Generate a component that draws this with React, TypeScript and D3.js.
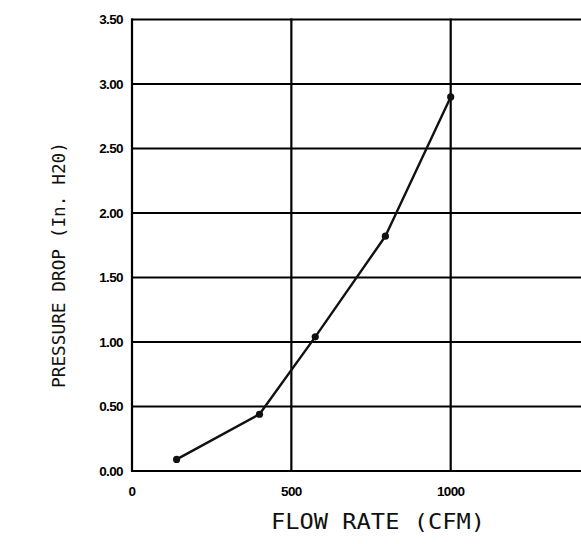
import { useEffect, useRef } from "react";
import * as d3 from "d3";

// Flow rate (CFM) vs pressure drop (in. H2O)
const flowRates = [140, 400, 575, 795, 1000];
const pressureDrops = [0.09, 0.44, 1.04, 1.82, 2.9];
const xTicks = [0, 500, 1000, 1500];
const yTicks = [0, 0.5, 1, 1.5, 2, 2.5, 3, 3.5];

const WIDTH = 581;
const HEIGHT = 544;
const MARGIN = { top: 19.5, left: 132, bottom: 73 };

export default function App() {
  const ref = useRef<SVGSVGElement>(null);

  useEffect(() => {
    const svg = d3.select(ref.current);
    svg.selectAll("*").remove();

    const x = d3.scaleLinear().domain([0, 1000]).range([MARGIN.left, 450.7]);
    const y = d3
      .scaleLinear()
      .domain([0, 3.5])
      .range([HEIGHT - MARGIN.bottom, MARGIN.top]);

    const grid = svg.append("g").attr("stroke", "#000").attr("stroke-width", 2.2);

    // horizontal lines, 0.00 .. 3.50
    grid
      .selectAll("line.h")
      .data(yTicks)
      .join("line")
      .attr("class", "h")
      .attr("x1", x(0) - 1)
      .attr("x2", x(1500))
      .attr("y1", (d) => y(d))
      .attr("y2", (d) => y(d));

    // vertical lines, left axis + 500 + 1000 + right edge
    grid
      .selectAll("line.v")
      .data(xTicks)
      .join("line")
      .attr("class", "v")
      .attr("x1", (d) => x(d))
      .attr("x2", (d) => x(d))
      .attr("y1", y(3.5) - 1)
      .attr("y2", y(0) + 1);

    // y tick labels
    svg
      .append("g")
      .selectAll("text")
      .data(yTicks)
      .join("text")
      .attr("x", x(0) - 9)
      .attr("y", (d) => y(d))
      .attr("dy", "0.36em")
      .attr("text-anchor", "end")
      .attr("font-family", "Liberation Sans, Arial, sans-serif")
      .attr("font-weight", "bold")
      .attr("font-size", 13.5)
      .attr("letter-spacing", -0.6)
      .text((d) => d3.format(".2f")(d));

    // x tick labels
    svg
      .append("g")
      .selectAll("text")
      .data(xTicks.slice(0, 3))
      .join("text")
      .attr("x", (d) => x(d))
      .attr("y", 495.5)
      .attr("text-anchor", "middle")
      .attr("font-family", "Liberation Sans, Arial, sans-serif")
      .attr("font-weight", "bold")
      .attr("font-size", 13.5)
      .attr("letter-spacing", -0.6)
      .text((d) => String(d));

    const line = d3
      .line<number>()
      .x((d) => x(d))
      .y((_, i) => y(pressureDrops[i]));

    svg
      .append("path")
      .datum(flowRates)
      .attr("d", line)
      .attr("fill", "none")
      .attr("stroke", "#111")
      .attr("stroke-width", 2.4)
      .attr("stroke-linejoin", "round");

    svg
      .append("g")
      .selectAll("circle")
      .data(flowRates)
      .join("circle")
      .attr("cx", (d) => x(d))
      .attr("cy", (_, i) => y(pressureDrops[i]))
      .attr("r", 3.6)
      .attr("fill", "#111");

    // axis titles
    svg
      .append("text")
      .attr("x", 271)
      .attr("y", 528.5)
      .attr("font-family", "DejaVu Sans Mono, monospace")
      .attr("font-size", 21.5)
      .attr("textLength", 214)
      .attr("lengthAdjust", "spacingAndGlyphs")
      .attr("fill", "#111")
      .text("FLOW RATE (CFM)");

    svg
      .append("text")
      .attr("transform", `translate(64.5,388) rotate(-90)`)
      .attr("font-family", "DejaVu Sans Mono, monospace")
      .attr("font-size", 18.5)
      .attr("textLength", 246)
      .attr("lengthAdjust", "spacingAndGlyphs")
      .attr("fill", "#111")
      .text("PRESSURE DROP (In. H20)");
  }, []);

  return (
    <div style={{ position: "absolute", left: 0, top: 0 }}>
      <svg
        ref={ref}
        width={WIDTH}
        height={HEIGHT}
        style={{ display: "block", background: "#fff", overflow: "hidden" }}
      />
    </div>
  );
}
